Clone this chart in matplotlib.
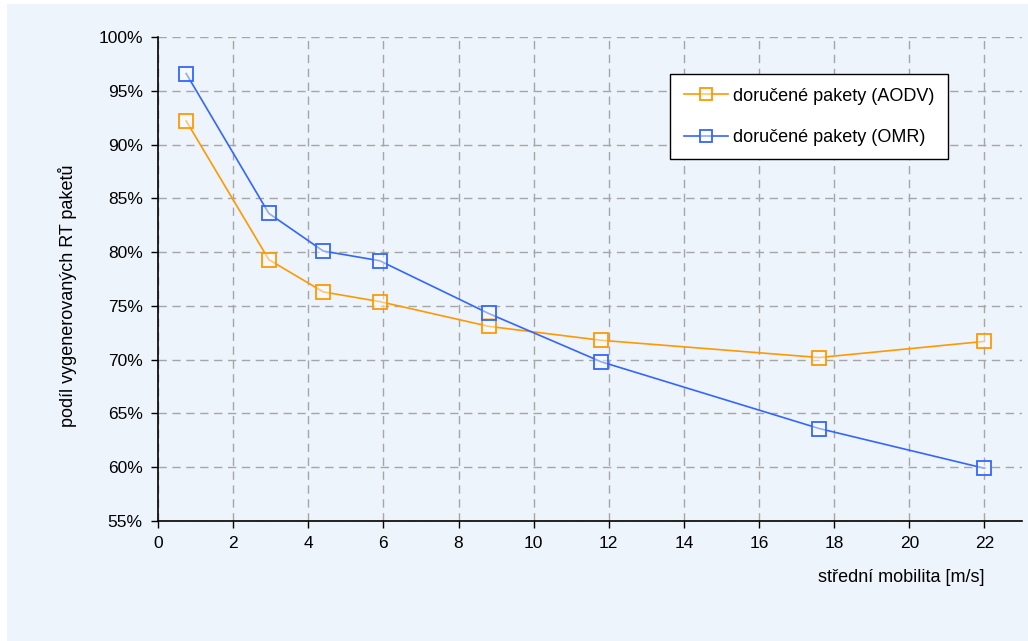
import matplotlib
matplotlib.use("Agg")
import matplotlib.pyplot as plt
from matplotlib.patches import Rectangle
from matplotlib.ticker import FuncFormatter

plt.rcParams['font.family'] = ['Liberation Sans', 'DejaVu Sans']

mobility = [0.75, 2.95, 4.4, 5.9, 8.8, 11.8, 17.6, 22.0]
aodv = [92.2, 79.3, 76.3, 75.4, 73.1, 71.8, 70.2, 71.7]
omr = [96.6, 83.6, 80.1, 79.2, 74.3, 69.8, 63.6, 59.9]
x_ticks = [0, 2, 4, 6, 8, 10, 12, 14, 16, 18, 20, 22]
y_ticks = [55, 60, 65, 70, 75, 80, 85, 90, 95, 100]

bg = '#EDF4FC'
fig = plt.figure(figsize=(10.28, 6.41), dpi=100, facecolor=bg)
# white strips on top/left edge
fig.patches.append(Rectangle((0, 1 - 4/641), 1, 4/641, transform=fig.transFigure,
                             facecolor='white', edgecolor='none', zorder=-1))
fig.patches.append(Rectangle((0, 0), 7/1028, 1, transform=fig.transFigure,
                             facecolor='white', edgecolor='none', zorder=-1))

ax = fig.add_axes([158/1028, (641-521)/641, (1022-158)/1028, (521-37)/641])
ax.set_facecolor(bg)

mk = dict(marker='s', markersize=10.5, markeredgewidth=1.3,
          markerfacecolor=(1, 1, 1, 0.45), linewidth=1.2)
ax.plot(mobility, aodv, color='#FF9900', markeredgecolor='#FF9900',
        label='doručené pakety (AODV)', **mk)
ax.plot(mobility, omr, color='#3366FF', markeredgecolor='#3366FF',
        label='doručené pakety (OMR)', **mk)

ax.set_xlim(0, 23)
ax.set_ylim(55, 100)
ax.set_xticks(x_ticks)
ax.set_yticks(y_ticks)
ax.yaxis.set_major_formatter(FuncFormatter(lambda v, p: f'{v:.0f}%'))
ax.grid(True, color='#A6A6A6', linestyle=(0, (6, 4)), linewidth=1.0)
ax.set_axisbelow(True)
for s in ['top', 'right']:
    ax.spines[s].set_visible(False)
for s in ['left', 'bottom']:
    ax.spines[s].set_linewidth(1.2)
ax.tick_params(direction='out', length=5, width=1.0, labelsize=12.5, pad=6)

fig.text(68/1028, 1 - 296/641, 'podíl vygenerovaných RT paketů', rotation=90,
         ha='center', va='center', fontsize=13)
fig.text(985/1028, 1 - 577/641, 'střední mobilita [m/s]', ha='right',
         va='center', fontsize=13)

leg = ax.legend(loc='upper left', bbox_to_anchor=((670-158)/864, (521-74)/484),
                frameon=True, fancybox=False, fontsize=13, borderpad=0.75,
                labelspacing=1.35, handlelength=2.45, handletextpad=0.3,
                borderaxespad=0)
leg.get_frame().set_edgecolor('black')
leg.get_frame().set_facecolor('white')
leg.get_frame().set_alpha(1)
leg.get_frame().set_linewidth(1.0)
for h in leg.legend_handles:
    h.set_markersize(8.5)

fig.savefig('out.png', dpi=100, facecolor=bg)
